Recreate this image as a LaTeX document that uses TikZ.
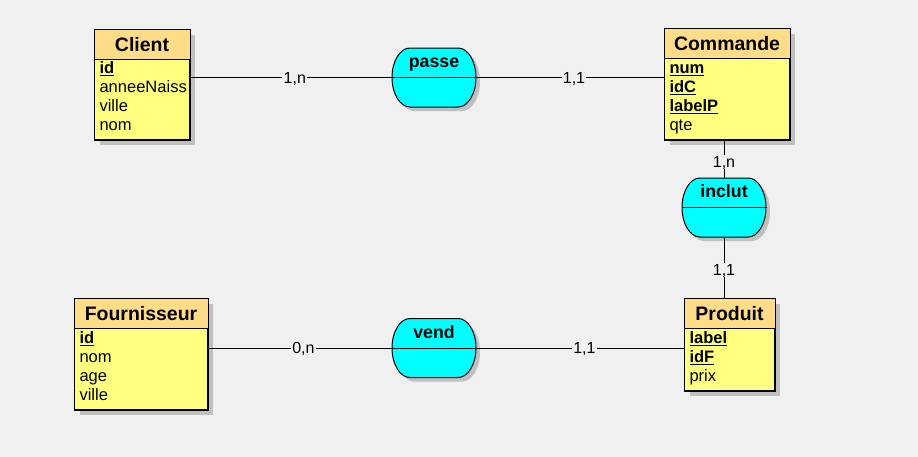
\documentclass[tikz,border=0pt]{standalone}
\usepackage{fontspec}
\setmainfont{Liberation Sans}
\usetikzlibrary{calc}
\definecolor{bgc}{HTML}{F0F0F0}
\definecolor{hdrc}{HTML}{FFDD88}
\definecolor{bodyc}{HTML}{FFFF80}
\definecolor{assocc}{HTML}{00FFFF}
\definecolor{shadc}{HTML}{C0C0C0}
\newcommand\keyattr[1]{\underline{\textbf{#1}}}
\tikzset{
  every path/.style={line width=0.75pt},
  entity/.style={draw, fill=bodyc, anchor=north west, inner sep=0pt},
  assocnode/.style={inner sep=0pt, minimum width=63pt, minimum height=44.25pt},
  assocshape/.style={fill=assocc, draw},
  shadowfill/.style={fill=shadc, draw=none},
  etitle/.style={anchor=base, inner sep=0pt, font=\fontsize{14.6}{17}\selectfont\bfseries},
  atitle/.style={anchor=base, inner sep=0pt, font=\fontsize{13.3}{16}\selectfont\bfseries},
  attr/.style={anchor=base west, inner sep=0pt, font=\fontsize{12.4}{15}\selectfont},
  card/.style={fill=bgc, inner xsep=1pt, inner ysep=1pt, text height=8.6pt, text depth=0pt,
    font=\fontsize{12}{14}\selectfont},
}
\newcommand\mcdent[6]{%
  \path[shadowfill] ({#2+5.5},{#3+5.5}) rectangle ({#2+#4+5.5},{#3+#5+5.5});
  \node[entity, minimum width=#4*0.75pt, minimum height=#5*0.75pt] (#1) at (#2,#3) {};
  \fill[hdrc] (#1.north west) rectangle ($(#1.north east)+(0,30)$);
  \draw ($(#1.north west)+(0,30)$) -- ($(#1.north east)+(0,30)$);
  \draw (#1.north west) rectangle (#1.south east);
  \node[etitle] (#1-t) at ($(#1.north)+(0,22)$) {#6};
}
\newcommand\assocoutline[2]{({#1-24},{#2-29.5}) -- ({#1+24},{#2-29.5})
  arc[start angle=90,end angle=0,x radius=13.5pt,y radius=22.125pt]
  arc[start angle=0,end angle=-90,x radius=13.5pt,y radius=22.125pt]
  -- ({#1-24},{#2+29.5})
  arc[start angle=270,end angle=180,x radius=13.5pt,y radius=22.125pt]
  arc[start angle=180,end angle=90,x radius=13.5pt,y radius=22.125pt] -- cycle}
\newcommand\mcdassoc[4]{%
  \path[shadowfill] \assocoutline{#2+4}{#3+4};
  \path[assocshape] \assocoutline{#2}{#3};
  \node[assocnode] (#1) at (#2,#3) {};
  \draw (#1.west) -- (#1.east);
  \node[atitle] (#1-t) at ($(#1.north)+(0,20.3)$) {#4};
}
\begin{document}
\begin{tikzpicture}[x=0.75pt,y=-0.75pt]
\fill[bgc] (0,0) rectangle (918,457);
\useasboundingbox (0,0) rectangle (918,457);

% entities
\mcdent{client}{94}{29}{95}{110}{Client}
\node[attr] (client-a1) at (99,73.5) {\keyattr{id}};
\node[attr] (client-a2) at (99,92.5) {anneeNaiss};
\node[attr] (client-a3) at (99,111.5) {ville};
\node[attr] (client-a4) at (99,130.5) {nom};

\mcdent{commande}{664}{28}{125}{111}{Commande}
\node[attr] (commande-a1) at (669,73.5) {\keyattr{num}};
\node[attr] (commande-a2) at (669,92.5) {\keyattr{idC}};
\node[attr] (commande-a3) at (669,111.5) {\keyattr{labelP}};
\node[attr] (commande-a4) at (669,130.5) {qte};

\mcdent{fournisseur}{74}{298}{133}{111}{Fournisseur}
\node[attr] (fournisseur-a1) at (79,343.5) {\keyattr{id}};
\node[attr] (fournisseur-a2) at (79,362.5) {nom};
\node[attr] (fournisseur-a3) at (79,381.5) {age};
\node[attr] (fournisseur-a4) at (79,400.5) {ville};

\mcdent{produit}{684}{298}{90}{92}{Produit}
\node[attr] (produit-a1) at (689,343.5) {\keyattr{label}};
\node[attr] (produit-a2) at (689,362.5) {\keyattr{idF}};
\node[attr] (produit-a3) at (689,381.5) {prix};

% associations
\mcdassoc{passe}{434}{77.5}{passe}
\mcdassoc{inclut}{724}{207.5}{inclut}
\mcdassoc{vend}{434}{348}{vend}

% connectors
\draw (client.east |- passe.west) -- node[card, pos=0.52] {1,n} (passe.west);
\draw (passe.east) -- node[card, pos=0.52] {1,1} (passe.east -| commande.west);
\draw (inclut.north |- commande.south) -- node[card, pos=0.58] {1,n} (inclut.north);
\draw (inclut.south) -- node[card, pos=0.54] {1,1} (inclut.south |- produit.north);
\draw (fournisseur.east |- vend.west) -- node[card, pos=0.52] {0,n} (vend.west);
\draw (vend.east) -- node[card, pos=0.52] {1,1} (vend.east -| produit.west);
\end{tikzpicture}
\end{document}
